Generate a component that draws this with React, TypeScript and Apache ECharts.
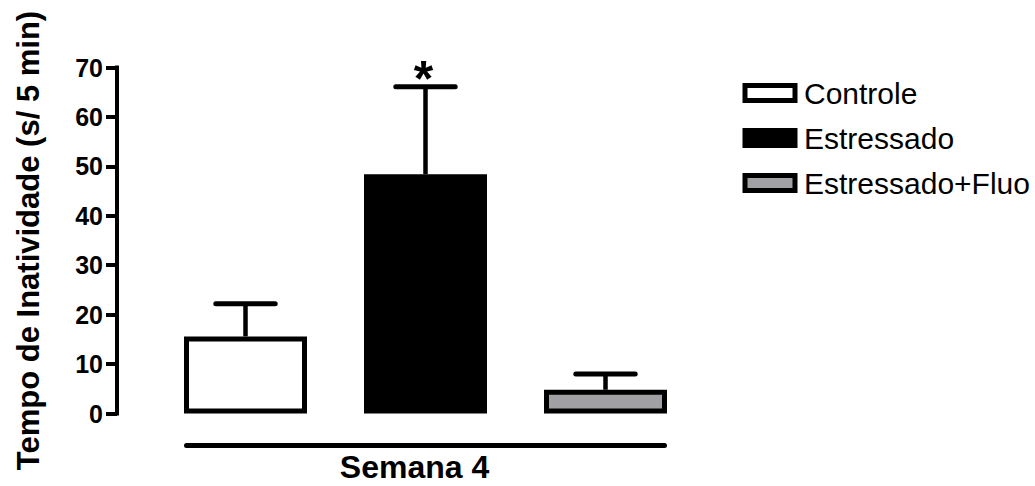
import React, { useEffect, useRef } from "react";
import * as echarts from "echarts";

const FONT = 'Arial, "Liberation Sans", Helvetica, sans-serif';

// Data
const categories = ["Controle", "Estressado", "Estressado+Fluo"];
const means = [15.6, 48.4, 4.8];
const errors = [6.6, 17.7, 3.2];
const significance = ["", "*", ""];
const fills = ["#ffffff", "#000000", "#a1a0a5"];
const groupLabel = "Semana 4";
const yTitle = "Tempo de Inatividade (s/ 5 min)";
const yMin = 0;
const yMax = 70;
const yInterval = 10;

export default function App() {
  const ref = useRef<HTMLDivElement>(null);

  useEffect(() => {
    document.body.style.margin = "0";
    const chart = echarts.init(ref.current as HTMLDivElement, null, { renderer: "svg" });

    const barSeries = categories.map((name, i) => ({
      type: "bar",
      name,
      xAxisIndex: 0,
      yAxisIndex: 0,
      data: categories.map((_, j) => (j === i ? means[i] : "-")),
      barWidth: 123,
      barGap: "-100%",
      itemStyle: { color: fills[i], borderColor: "#000", borderWidth: 5 },
      emphasis: { disabled: true },
      z: 2,
    }));

    const errorSeries = {
      type: "custom",
      name: "erro",
      xAxisIndex: 0,
      yAxisIndex: 0,
      z: 5,
      data: categories.map((_, i) => [i, means[i], errors[i]]),
      renderItem: (params: any, api: any) => {
        const i = api.value(0);
        const m = api.value(1);
        const e = api.value(2);
        const base = api.coord([i, m]);
        const top = api.coord([i, m + e]);
        const half = api.size([1, 0])[0] * 0.165;
        const children: any[] = [
          {
            type: "line",
            shape: { x1: base[0], y1: base[1], x2: top[0], y2: top[1] },
            style: { stroke: "#000", lineWidth: 4.5 },
          },
          {
            type: "line",
            shape: { x1: top[0] - half, y1: top[1], x2: top[0] + half, y2: top[1] },
            style: { stroke: "#000", lineWidth: 5, lineCap: "round" },
          },
        ];
        const mark = significance[params.dataIndex];
        if (mark) {
          children.push({
            type: "text",
            style: {
              text: mark,
              x: top[0] - 2,
              y: top[1] - 8,
              align: "center",
              verticalAlign: "middle",
              fontSize: 50,
              fontWeight: "bold",
              fontFamily: FONT,
              fill: "#000",
            },
          });
        }
        return { type: "group", children };
      },
    };

    const option: any = {
      animation: false,
      backgroundColor: "#ffffff",
      textStyle: { fontFamily: FONT },
      legend: {
        orient: "vertical",
        left: 737.5,
        top: 73,
        itemWidth: 50,
        itemHeight: 15,
        itemGap: 15,
        selectedMode: false,
        data: categories.map((name, i) => ({
          name,
          icon: "rect",
          itemStyle: { color: fills[i], borderColor: "#000", borderWidth: 5 },
        })),
        textStyle: {
          fontSize: 30,
          color: "#000",
          fontFamily: FONT,
          lineHeight: 30,
          padding: [0, 0, 0, 4],
        },
      },
      grid: [
        { left: 155.5, width: 540, top: 67.5, height: 346 },
        { left: 186.5, width: 478, top: 440, height: 5 },
      ],
      xAxis: [
        { type: "category", gridIndex: 0, data: categories, show: false },
        {
          type: "category",
          gridIndex: 1,
          data: [groupLabel],
          axisLine: { show: true, lineStyle: { color: "#000", width: 5, cap: "round" } },
          axisTick: { show: false },
          axisLabel: {
            fontSize: 32,
            fontWeight: "bold",
            color: "#000",
            margin: 6,
            padding: [0, 22, 0, 0],
            fontFamily: FONT,
          },
        },
      ],
      yAxis: [
        {
          type: "value",
          gridIndex: 0,
          min: yMin,
          max: yMax,
          interval: yInterval,
          offset: 38.5,
          axisLine: { show: true, lineStyle: { color: "#000", width: 4, cap: "square" } },
          axisTick: { show: true, length: 11, lineStyle: { color: "#000", width: 4 } },
          axisLabel: {
            fontSize: 25,
            fontWeight: "bold",
            color: "#000",
            margin: 14,
            fontFamily: FONT,
          },
          splitLine: { show: false },
          name: yTitle,
          nameLocation: "middle",
          nameGap: 73,
          nameTextStyle: { fontSize: 31, fontWeight: "bold", color: "#000", fontFamily: FONT },
        },
        { type: "value", gridIndex: 1, show: false },
      ],
      series: [...barSeries, errorSeries],
    };

    chart.setOption(option);
    return () => chart.dispose();
  }, []);

  return <div ref={ref} style={{ width: 1035, height: 486 }} />;
}
